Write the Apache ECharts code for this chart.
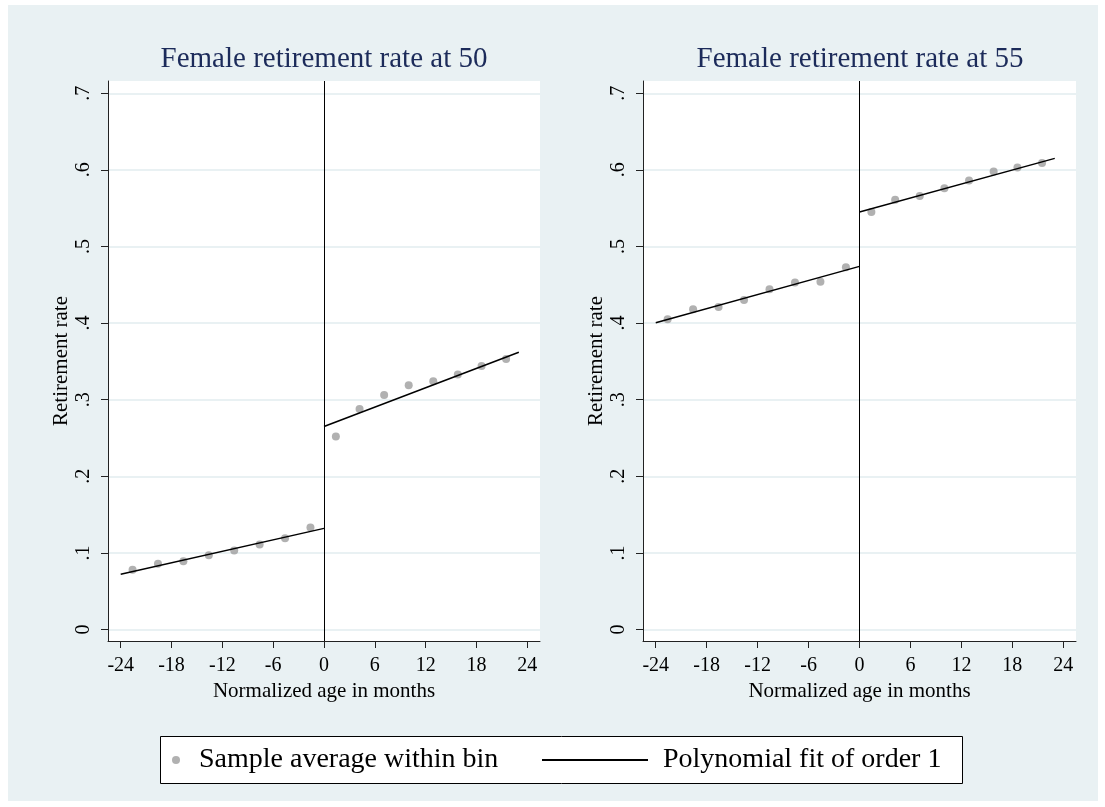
<!DOCTYPE html>
<html><head><meta charset="utf-8">
<script src="https://cdn.jsdelivr.net/npm/echarts@6/dist/echarts.min.js"></script>
<style>html,body{margin:0;padding:0;background:#fff;} #c{width:1105px;height:807px;}</style>
</head><body><div id="c"></div>
<script>
// ---- data ----
const panelTitles = ['Female retirement rate at 50', 'Female retirement rate at 55'];
const xTicks = [-24, -18, -12, -6, 0, 6, 12, 18, 24];
const yTicks = [0, 0.1, 0.2, 0.3, 0.4, 0.5, 0.6, 0.7];
const yTickLabels = ['0', '.1', '.2', '.3', '.4', '.5', '.6', '.7'];
const binsBefore = [-22.6, -19.6, -16.6, -13.6, -10.6, -7.6, -4.6, -1.6];
const binsAfter = [1.4, 4.2, 7.1, 10.0, 12.9, 15.8, 18.6, 21.5];
const rate50Before = [0.078, 0.086, 0.089, 0.097, 0.103, 0.111, 0.119, 0.133];
const rate50After = [0.252, 0.288, 0.306, 0.319, 0.324, 0.333, 0.344, 0.353];
const rate55Before = [0.405, 0.418, 0.421, 0.430, 0.444, 0.453, 0.454, 0.473];
const rate55After = [0.545, 0.561, 0.566, 0.576, 0.586, 0.598, 0.603, 0.609];
const fitXBefore = [-24, 0];
const fitXAfter = [0, 23];
const fit50Before = [0.072, 0.132];
const fit50After = [0.265, 0.362];
const fit55Before = [0.4005, 0.474];
const fit55After = [0.545, 0.615];
const legendNames = ['Sample average within bin', 'Polynomial fit of order 1'];
const xName = 'Normalized age in months';
const yName = 'Retirement rate';

const FONT = 'Liberation Serif';
const BG = '#e9f1f3';
const pair = (xs, ys) => xs.map((x, i) => [x, ys[i]]);

function xAxis(g) {
  return {
    type: 'value', gridIndex: g, min: -25.5, max: 25.5,
    axisLine: { show: true, onZero: false, lineStyle: { color: '#222', width: 1 } },
    axisTick: { show: true, customValues: xTicks, length: 7, lineStyle: { color: '#222' } },
    axisLabel: { customValues: xTicks, margin: 15, fontFamily: FONT, fontSize: 20, color: '#000' },
    splitLine: { show: false },
    name: xName, nameLocation: 'middle', nameGap: 35,
    nameTextStyle: { fontFamily: FONT, fontSize: 21, color: '#000' }
  };
}
function yAxis(g) {
  return {
    type: 'value', gridIndex: g, min: -0.015, max: 0.716,
    axisLine: { show: true, onZero: false, lineStyle: { color: '#222', width: 1 } },
    axisTick: { show: true, customValues: yTicks, length: 7, lineStyle: { color: '#222' } },
    axisLabel: {
      customValues: yTicks, rotate: 90, margin: 14, fontFamily: FONT, fontSize: 20, color: '#000',
      formatter: v => { const i = yTicks.findIndex(t => Math.abs(t - v) < 1e-9); return i >= 0 ? yTickLabels[i] : ''; }
    },
    splitLine: { show: true, lineStyle: { color: BG, width: 2 } },
    name: yName, nameLocation: 'middle', nameRotate: 90, nameGap: 36,
    nameTextStyle: { fontFamily: FONT, fontSize: 21, color: '#000' }
  };
}
function scatter(g, xs, ys) {
  return { name: legendNames[0], type: 'scatter', xAxisIndex: g, yAxisIndex: g,
    data: pair(xs, ys), symbol: 'circle', symbolSize: 8, itemStyle: { color: '#9e9e9e' }, z: 2 };
}
function fit(g, xs, ys, withZero) {
  const s = { name: legendNames[1], type: 'line', xAxisIndex: g, yAxisIndex: g,
    data: pair(xs, ys), showSymbol: false, symbol: 'none', color: '#000',
    lineStyle: { color: '#000', width: 1.5 }, z: 3 };
  if (withZero) {
    s.markLine = { silent: true, symbol: 'none', label: { show: false },
      lineStyle: { color: '#000', width: 1, type: 'solid' }, data: [{ xAxis: 0 }] };
  }
  return s;
}

const chart = echarts.init(document.getElementById('c'), null, { renderer: 'canvas' });
chart.setOption({
  animation: false,
  backgroundColor: '#fff',
  graphic: [
    { type: 'rect', z: -10, shape: { x: 8, y: 5, width: 1090, height: 796 }, style: { fill: BG } },
    { type: 'rect', z: 1, shape: { x: 160.5, y: 736.5, width: 802, height: 47 }, style: { fill: '#fff', stroke: '#000', lineWidth: 1 } }
  ],
  title: [
    { text: panelTitles[0], left: 324, top: 45, textAlign: 'center', padding: 0,
      textStyle: { fontFamily: FONT, fontSize: 29, fontWeight: 'normal', color: '#1c2b5a' } },
    { text: panelTitles[1], left: 860, top: 45, textAlign: 'center', padding: 0,
      textStyle: { fontFamily: FONT, fontSize: 29, fontWeight: 'normal', color: '#1c2b5a' } }
  ],
  grid: [
    { left: 108, right: 565, top: 81, bottom: 166, show: true, backgroundColor: '#fff', borderWidth: 0 },
    { left: 643, right: 29, top: 81, bottom: 166, show: true, backgroundColor: '#fff', borderWidth: 0 }
  ],
  xAxis: [xAxis(0), xAxis(1)],
  yAxis: [yAxis(0), yAxis(1)],
  legend: [
    { data: [{ name: legendNames[0], icon: 'circle' }], selectedMode: false, left: 172, top: 746, padding: 0,
      itemWidth: 8, itemHeight: 8,
      textStyle: { fontFamily: FONT, fontSize: 28, color: '#000', padding: [0, 0, 0, 14] } },
    { data: [{ name: legendNames[1], icon: 'rect' }], selectedMode: false, left: 542, top: 746, padding: 0,
      itemWidth: 106, itemHeight: 2,
      textStyle: { fontFamily: FONT, fontSize: 28, color: '#000', padding: [0, 0, 0, 10] } }
  ],
  series: [
    scatter(0, binsBefore, rate50Before),
    scatter(0, binsAfter, rate50After),
    fit(0, fitXBefore, fit50Before, true),
    fit(0, fitXAfter, fit50After, false),
    scatter(1, binsBefore, rate55Before),
    scatter(1, binsAfter, rate55After),
    fit(1, fitXBefore, fit55Before, true),
    fit(1, fitXAfter, fit55After, false)
  ]
});
</script></body></html>
